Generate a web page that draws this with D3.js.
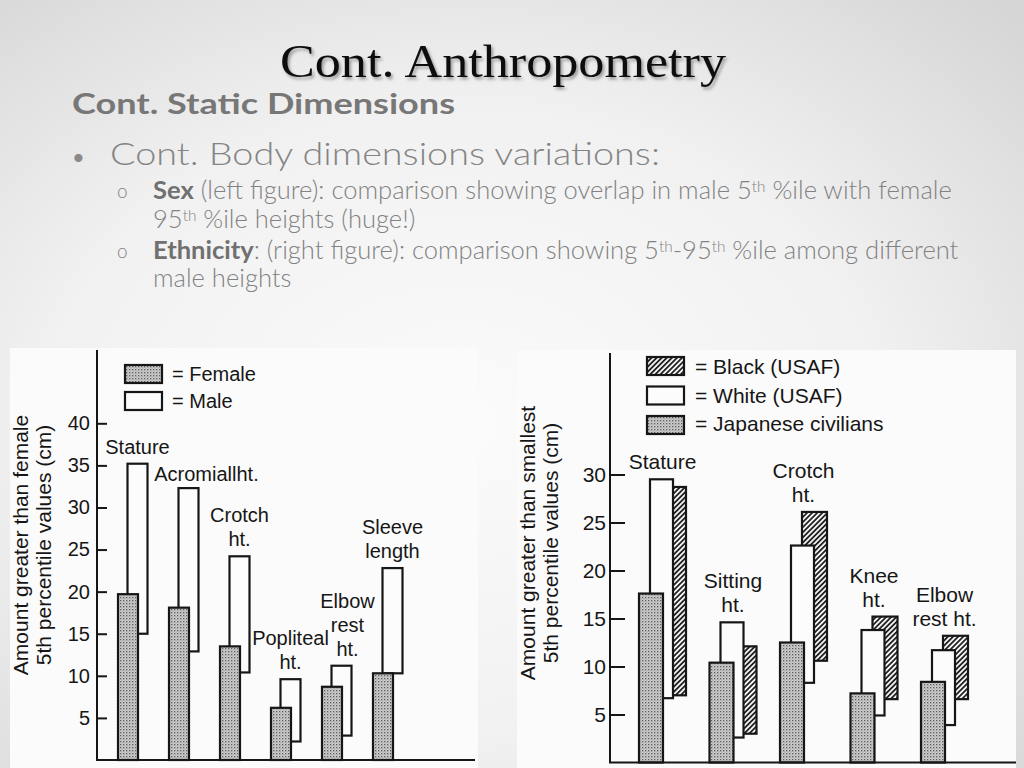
<!DOCTYPE html>
<html><head><meta charset="utf-8">
<script src="https://cdn.jsdelivr.net/npm/d3@7"></script>
<style>html,body{margin:0;padding:0;overflow:hidden;background:#eee}</style>
</head><body><svg id="c" width="1024" height="768"></svg>
<script>
// ---------- data ----------
const sexCategories = [["Stature"],["Acromiallht."],["Crotch","ht."],["Popliteal","ht."],["Elbow","rest","ht."],["Sleeve","length"]];
const femaleTop = [19.7, 18.1, 13.5, 6.2, 8.7, 10.3];
const maleLow   = [15.0, 12.9, 10.4, 2.2, 2.9, 10.3];
const maleHigh  = [35.2, 32.3, 24.2, 9.6, 11.2, 22.8];
const sexTicks  = [5, 10, 15, 20, 25, 30, 35, 40];
const sexLegend = ["= Female", "= Male"];
const sexAxisTitle = ["Amount greater than female", "5th percentile values (cm)"];

const ethCategories = [["Stature"],["Sitting","ht."],["Crotch","ht."],["Knee","ht."],["Elbow","rest ht."]];
const japaneseTop = [17.6, 10.4, 12.5, 7.2, 8.4];
const whiteLow    = [6.7, 2.6, 8.3, 4.9, 3.9];
const whiteHigh   = [29.5, 14.6, 22.6, 13.8, 11.7];
const blackLow    = [7.0, 3.0, 10.6, 6.6, 6.6];
const blackHigh   = [28.7, 12.1, 26.1, 15.2, 13.2];
const ethTicks    = [5, 10, 15, 20, 25, 30];
const ethLegend   = ["= Black (USAF)", "= White (USAF)", "= Japanese civilians"];
const ethAxisTitle = ["Amount greater than smallest", "5th percentile values (cm)"];

const slideTitle = "Cont. Anthropometry";
const slideSubtitle = "Cont. Static Dimensions";
const bulletText = "Cont. Body dimensions variations:";

// ---------- drawing ----------
const svg = d3.select("#c");
const defs = svg.append("defs");

const bg = defs.append("radialGradient").attr("id","bg").attr("cx","45%").attr("cy","55%").attr("r","75%");
bg.append("stop").attr("offset","0%").attr("stop-color","#fbfbfb");
bg.append("stop").attr("offset","55%").attr("stop-color","#f1f1f1");
bg.append("stop").attr("offset","100%").attr("stop-color","#d6d6d6");

const sh = defs.append("filter").attr("id","shadow").attr("x","-10%").attr("y","-30%").attr("width","120%").attr("height","160%");
sh.append("feDropShadow").attr("dx",2).attr("dy",2.5).attr("stdDeviation",1.6).attr("flood-color","#000").attr("flood-opacity",0.35);

const stip = defs.append("pattern").attr("id","stipple").attr("width",3).attr("height",3).attr("patternUnits","userSpaceOnUse");
stip.append("rect").attr("width",3).attr("height",3).attr("fill","#cfcfcf");
stip.append("rect").attr("x",0).attr("y",0).attr("width",1.3).attr("height",1.3).attr("fill","#5a5a5a");
stip.append("rect").attr("x",1.5).attr("y",1.5).attr("width",1).attr("height",1).attr("fill","#8a8a8a");

const hatch = defs.append("pattern").attr("id","hatch").attr("width",3.6).attr("height",3.6)
  .attr("patternUnits","userSpaceOnUse").attr("patternTransform","rotate(45)");
hatch.append("rect").attr("width",3.6).attr("height",3.6).attr("fill","#f4f4f4");
hatch.append("line").attr("x1",0.9).attr("y1",0).attr("x2",0.9).attr("y2",3.6).attr("stroke","#151515").attr("stroke-width",1.7);

svg.append("rect").attr("width",1024).attr("height",768).attr("fill","url(#bg)");

// slide texts
svg.append("text").attr("x",280).attr("y",77).attr("font-family","'Liberation Serif', serif")
  .attr("font-size",47).attr("fill","#111").attr("filter","url(#shadow)")
  .attr("textLength",446).attr("lengthAdjust","spacingAndGlyphs").text(slideTitle);

svg.append("text").attr("x",72).attr("y",114).attr("font-family","Lato, 'Open Sans', sans-serif")
  .attr("font-weight",700).attr("font-size",29).attr("fill","#777")
  .attr("textLength",383).attr("lengthAdjust","spacingAndGlyphs").text(slideSubtitle);

svg.append("text").attr("x",72).attr("y",165).attr("font-family","Lato, sans-serif")
  .attr("font-size",22).attr("fill","#8a8a8a").text("•");
svg.append("text").attr("x",110).attr("y",165).attr("font-family","Lato, 'Open Sans', sans-serif")
  .attr("font-weight",300).attr("font-size",31).attr("fill","#848484")
  .attr("textLength",550).attr("lengthAdjust","spacingAndGlyphs").text(bulletText);

const subLines = [
  {y:199, mark:true, parts:[{t:"Sex",b:1},{t:" (left figure): comparison showing overlap in male 5"},{t:"th",s:1},{t:" %ile with female"}], w:799},
  {y:228, mark:false, parts:[{t:"95"},{t:"th",s:1},{t:" %ile heights (huge!)"}]},
  {y:259, mark:true, parts:[{t:"Ethnicity",b:1},{t:": (right figure): comparison showing 5"},{t:"th",s:1},{t:"-95"},{t:"th",s:1},{t:" %ile among different"}], w:791},
  {y:287, mark:false, parts:[{t:"male heights"}]}
];
const subG = svg.append("g").attr("font-family","Lato, 'Open Sans', sans-serif").attr("fill","#828282");
const subTexts = [];
subLines.forEach(l => {
  if (l.mark) subG.append("text").attr("x",117).attr("y",l.y - 1).attr("font-size",19).attr("font-weight",300).text("o");
  const t = subG.append("text").attr("x",153).attr("y",l.y).attr("font-size",20).attr("font-weight",300);
  l.parts.forEach(p => {
    const ts = t.append("tspan").text(p.t);
    if (p.b) ts.attr("font-weight",700).attr("fill","#707070");
    if (p.s) ts.attr("font-size",12).attr("dy",-7);
  });
  t.selectAll("tspan").each(function(d,i,n){
    const prev = i>0 ? n[i-1] : null;
    if (prev && prev.getAttribute("dy")==="-7" && this.getAttribute("dy")!=="-7") d3.select(this).attr("dy",7);
  });
  subTexts.push({t, l});
});
// fit size so the long lines match their width
const first = subTexts[0];
const len = first.t.node().getComputedTextLength();
const fs = 20 * first.l.w / len;
subTexts.forEach(o => o.t.attr("font-size", fs));
subTexts.forEach(o => o.t.selectAll("tspan").filter(function(){return this.getAttribute("font-size")==="12";}).attr("font-size", fs*0.6));

// ---------- left figure: sex ----------
const L = svg.append("g");
L.append("rect").attr("x",10).attr("y",348).attr("width",468).attr("height",420).attr("fill","#fbfbfb");
const yL = d3.scaleLinear().domain([0,40]).range([760,423.3]);
const xL = d3.scaleBand().domain(d3.range(sexCategories.length)).range([118, 118 + 51*sexCategories.length]);
const fontL = "'Liberation Sans', Arial, sans-serif";
const ink = "#161616";

L.selectAll(".male").data(d3.range(sexCategories.length)).join("rect")
  .attr("x", i => xL(i)+9.5).attr("width",20)
  .attr("y", i => yL(maleHigh[i])).attr("height", i => yL(maleLow[i]) - yL(maleHigh[i]))
  .attr("fill","#fcfcfc").attr("stroke",ink).attr("stroke-width",2.2);
L.selectAll(".female").data(d3.range(sexCategories.length)).join("rect")
  .attr("x", i => xL(i)).attr("width",20)
  .attr("y", i => yL(femaleTop[i])).attr("height", i => yL(0) - yL(femaleTop[i]))
  .attr("fill","url(#stipple)").attr("stroke",ink).attr("stroke-width",2.2);

const axL = d3.axisLeft(yL).tickValues(sexTicks).tickSizeInner(-10).tickSizeOuter(0).tickPadding(7);
const gAL = L.append("g").attr("transform","translate(97,0)").call(axL);
gAL.select(".domain").remove();
gAL.selectAll("line").attr("stroke",ink).attr("stroke-width",2);
gAL.selectAll("text").attr("font-family",fontL).attr("font-size",20).attr("fill",ink);
L.append("line").attr("x1",97).attr("x2",97).attr("y1",350).attr("y2",yL(0)).attr("stroke",ink).attr("stroke-width",2);
L.append("line").attr("x1",96).attr("x2",475).attr("y1",yL(0)).attr("y2",yL(0)).attr("stroke",ink).attr("stroke-width",2.2);

const nudgeL = [{dx:0,dy:0},{dx:18,dy:3},{dx:0,dy:0},{dx:0,dy:0},{dx:6,dy:0},{dx:0,dy:0}];
sexCategories.forEach((lines,i) => {
  const cx = xL(i) + 19.5 + nudgeL[i].dx;
  const last = yL(maleHigh[i]) - 10 + nudgeL[i].dy;
  lines.forEach((s,k) => {
    L.append("text").attr("x",cx).attr("y", last - (lines.length-1-k)*24)
      .attr("text-anchor","middle").attr("font-family",fontL).attr("font-size",20).attr("fill",ink).text(s);
  });
});

[["url(#stipple)"],["#fcfcfc"]].forEach((f,k) => {
  L.append("rect").attr("x",125).attr("y",365 + k*27).attr("width",37).attr("height",18)
    .attr("fill",f[0]).attr("stroke",ink).attr("stroke-width",2.2);
  L.append("text").attr("x",172).attr("y",381 + k*27).attr("font-family",fontL).attr("font-size",20).attr("fill",ink).text(sexLegend[k]);
});

sexAxisTitle.forEach((s,k) => {
  L.append("text").attr("transform",`translate(${28 + k*23},545) rotate(-90)`).attr("text-anchor","middle")
    .attr("font-family",fontL).attr("font-size",21).attr("fill",ink).text(s);
});

// ---------- right figure: ethnicity ----------
const R = svg.append("g");
R.append("rect").attr("x",517).attr("y",350).attr("width",499).attr("height",418).attr("fill","#fbfbfb");
const yR = d3.scaleLinear().domain([0,30]).range([762.5,474.5]);
const xR = d3.scaleBand().domain(d3.range(ethCategories.length)).range([639, 639 + 70.5*ethCategories.length]);
const idxR = d3.range(ethCategories.length);

R.selectAll(".black").data(idxR).join("rect")
  .attr("x", i => xR(i)+22).attr("width",25)
  .attr("y", i => yR(blackHigh[i])).attr("height", i => yR(blackLow[i]) - yR(blackHigh[i]))
  .attr("fill","url(#hatch)").attr("stroke",ink).attr("stroke-width",2.2);
R.selectAll(".white").data(idxR).join("rect")
  .attr("x", i => xR(i)+11).attr("width",23)
  .attr("y", i => yR(whiteHigh[i])).attr("height", i => yR(whiteLow[i]) - yR(whiteHigh[i]))
  .attr("fill","#fcfcfc").attr("stroke",ink).attr("stroke-width",2.2);
R.selectAll(".jap").data(idxR).join("rect")
  .attr("x", i => xR(i)).attr("width",24)
  .attr("y", i => yR(japaneseTop[i])).attr("height", i => yR(0) - yR(japaneseTop[i]))
  .attr("fill","url(#stipple)").attr("stroke",ink).attr("stroke-width",2.2);

const axR = d3.axisLeft(yR).tickValues(ethTicks).tickSizeInner(-15).tickSizeOuter(0).tickPadding(4);
const gAR = R.append("g").attr("transform","translate(610,0)").call(axR);
gAR.select(".domain").remove();
gAR.selectAll("line").attr("stroke",ink).attr("stroke-width",2);
gAR.selectAll("text").attr("font-family",fontL).attr("font-size",21).attr("fill",ink);
R.append("line").attr("x1",610).attr("x2",610).attr("y1",353).attr("y2",yR(0)).attr("stroke",ink).attr("stroke-width",2);
R.append("line").attr("x1",609).attr("x2",1016).attr("y1",yR(0)).attr("y2",yR(0)).attr("stroke",ink).attr("stroke-width",2.2);

ethCategories.forEach((lines,i) => {
  const cx = xR(i) + 23.5;
  const last = Math.min(yR(whiteHigh[i]), yR(blackHigh[i])) - 10;
  lines.forEach((s,k) => {
    R.append("text").attr("x",cx).attr("y", last - (lines.length-1-k)*24)
      .attr("text-anchor","middle").attr("font-family",fontL).attr("font-size",21).attr("fill",ink).text(s);
  });
});

["url(#hatch)","#fcfcfc","url(#stipple)"].forEach((f,k) => {
  R.append("rect").attr("x",647).attr("y",357 + k*29.5).attr("width",37).attr("height",18)
    .attr("fill",f).attr("stroke",ink).attr("stroke-width",2.2);
  R.append("text").attr("x",695).attr("y",374 + k*28.5).attr("font-family",fontL).attr("font-size",21).attr("fill",ink).text(ethLegend[k]);
});

ethAxisTitle.forEach((s,k) => {
  R.append("text").attr("transform",`translate(${535 + k*23},543) rotate(-90)`).attr("text-anchor","middle")
    .attr("font-family",fontL).attr("font-size",21).attr("fill",ink).text(s);
});
</script>
</body></html>
